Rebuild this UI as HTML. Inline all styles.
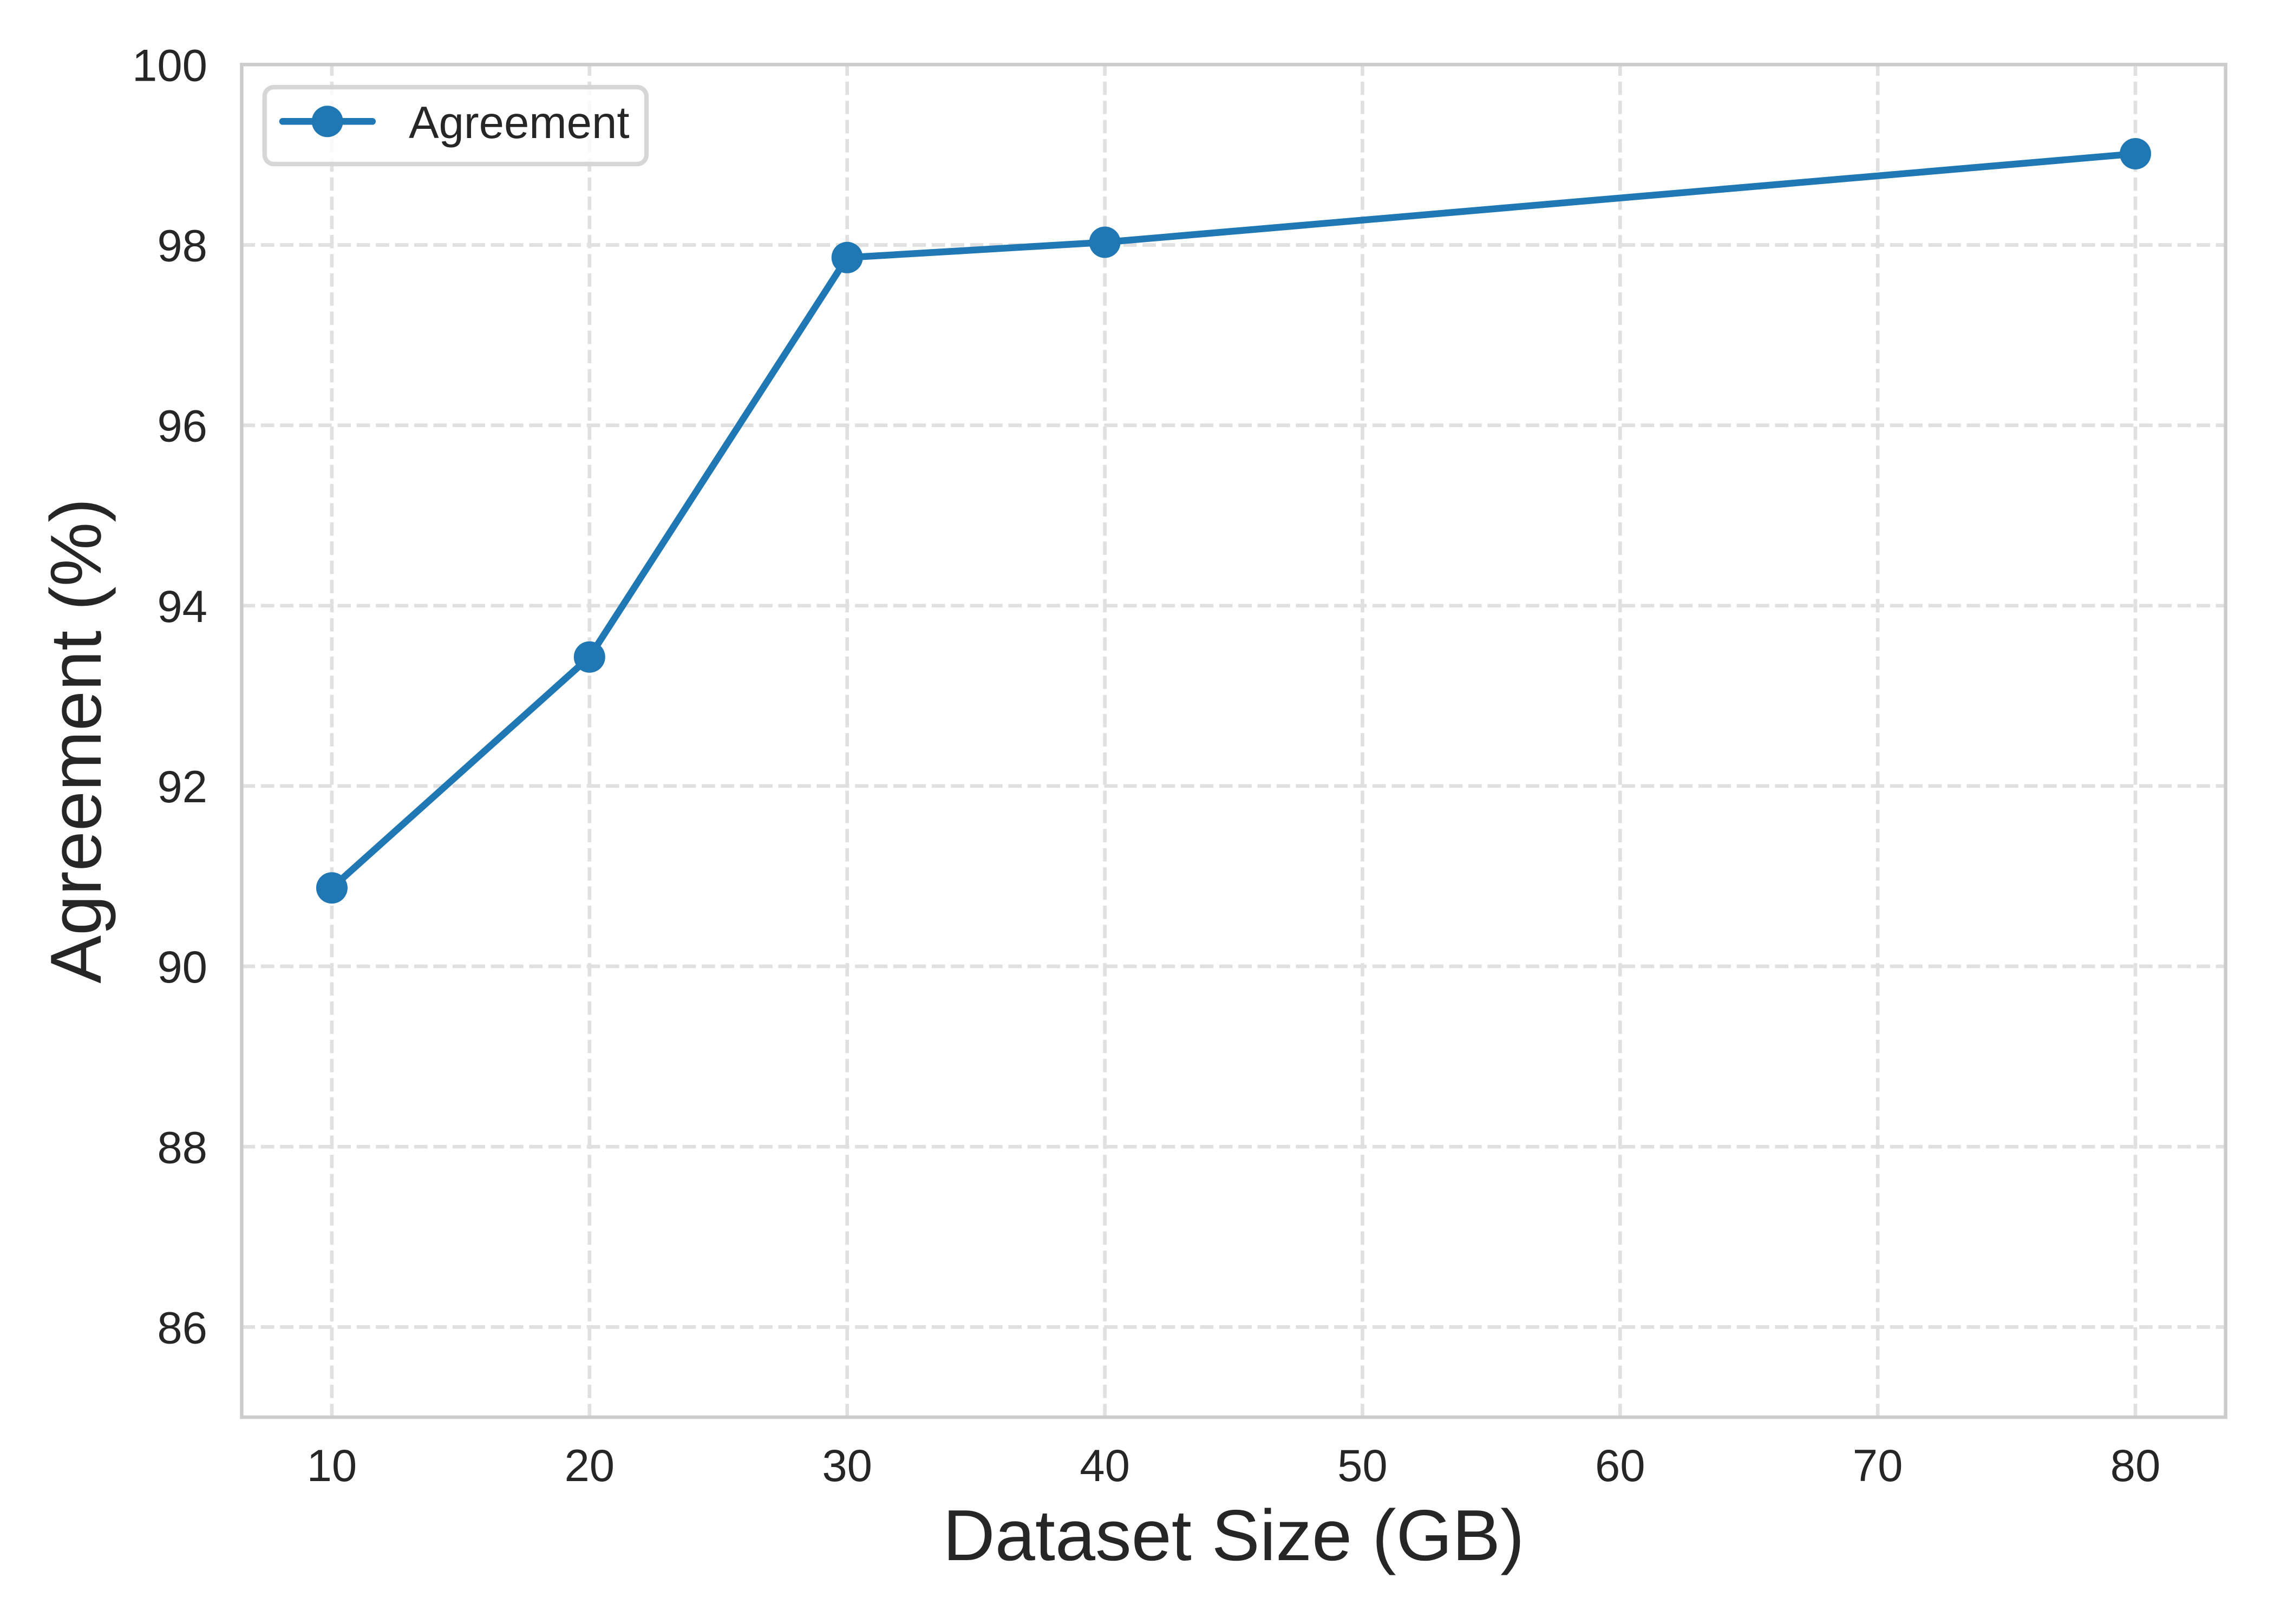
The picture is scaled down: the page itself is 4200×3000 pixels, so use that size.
<!DOCTYPE html>
<html>
<head>
<meta charset="utf-8">
<style>
  html, body { margin: 0; padding: 0; background: #ffffff; }
  svg { display: block; }
  text { font-family: "Liberation Sans", Arial, sans-serif; fill: #262626; }
</style>
</head>
<body>
<svg xmlns="http://www.w3.org/2000/svg" width="4200" height="3000" viewBox="0 0 4200 3000">
  <rect x="0" y="0" width="4200" height="3000" fill="#ffffff"/>

  <!-- horizontal gridlines -->
  <g stroke="#e0e0e0" stroke-width="6.7" stroke-dasharray="24.7 10.7" fill="none">
    <line x1="446.4" y1="452.5" x2="4110.6" y2="452.5"/>
    <line x1="446.4" y1="785.6" x2="4110.6" y2="785.6"/>
    <line x1="446.4" y1="1118.8" x2="4110.6" y2="1118.8"/>
    <line x1="446.4" y1="1451.9" x2="4110.6" y2="1451.9"/>
    <line x1="446.4" y1="1785.1" x2="4110.6" y2="1785.1"/>
    <line x1="446.4" y1="2118.3" x2="4110.6" y2="2118.3"/>
    <line x1="446.4" y1="2451.4" x2="4110.6" y2="2451.4"/>
  </g>
  <!-- vertical gridlines -->
  <g stroke="#e0e0e0" stroke-width="6.7" stroke-dasharray="24.7 10.7" fill="none">
    <line x1="612.95" y1="2618" x2="612.95" y2="119.3"/>
    <line x1="1088.8" y1="2618" x2="1088.8" y2="119.3"/>
    <line x1="1564.7" y1="2618" x2="1564.7" y2="119.3"/>
    <line x1="2040.6" y1="2618" x2="2040.6" y2="119.3"/>
    <line x1="2516.4" y1="2618" x2="2516.4" y2="119.3"/>
    <line x1="2992.3" y1="2618" x2="2992.3" y2="119.3"/>
    <line x1="3468.1" y1="2618" x2="3468.1" y2="119.3"/>
    <line x1="3944.0" y1="2618" x2="3944.0" y2="119.3"/>
  </g>

  <!-- spines -->
  <rect x="446.4" y="119.3" width="3664.2" height="2498.7" fill="none" stroke="#cccccc" stroke-width="6.5"/>

  <!-- data series -->
  <polyline points="612.95,1640.2 1088.8,1213.7 1564.7,475.8 2040.6,447.5 3944.0,284"
            fill="none" stroke="#1f77b4" stroke-width="12.5" stroke-linejoin="round" stroke-linecap="square"/>
  <g fill="#1f77b4">
    <circle cx="612.95" cy="1640.2" r="29"/>
    <circle cx="1088.8" cy="1213.7" r="29"/>
    <circle cx="1564.7" cy="475.8" r="29"/>
    <circle cx="2040.6" cy="447.5" r="29"/>
    <circle cx="3944.0" cy="284" r="29"/>
  </g>

  <!-- legend -->
  <rect x="488.7" y="161" width="705.3" height="142" rx="17" ry="17" fill="#ffffff" fill-opacity="0.8" stroke="#d6d6d6" stroke-width="8.3"/>
  <line x1="521.9" y1="224.3" x2="687.8" y2="224.3" stroke="#1f77b4" stroke-width="12.5" stroke-linecap="round"/>
  <circle cx="604.7" cy="224.3" r="29" fill="#1f77b4"/>
  <text x="755" y="255" font-size="83.3">Agreement</text>

  <!-- y tick labels -->
  <g font-size="83.3" text-anchor="end">
    <text x="383" y="149.3">100</text>
    <text x="383" y="482.5">98</text>
    <text x="383" y="815.6">96</text>
    <text x="383" y="1148.8">94</text>
    <text x="383" y="1481.9">92</text>
    <text x="383" y="1815.1">90</text>
    <text x="383" y="2148.3">88</text>
    <text x="383" y="2481.4">86</text>
  </g>

  <!-- x tick labels -->
  <g font-size="83.3" text-anchor="middle">
    <text x="612.95" y="2736">10</text>
    <text x="1088.8" y="2736">20</text>
    <text x="1564.7" y="2736">30</text>
    <text x="2040.6" y="2736">40</text>
    <text x="2516.4" y="2736">50</text>
    <text x="2992.3" y="2736">60</text>
    <text x="3468.1" y="2736">70</text>
    <text x="3944.0" y="2736">80</text>
  </g>

  <!-- axis labels -->
  <text x="2278.5" y="2882" font-size="133.3" text-anchor="middle">Dataset Size (GB)</text>
  <text transform="translate(186,1368.6) rotate(-90)" font-size="133.3" text-anchor="middle">Agreement (%)</text>
</svg>
</body>
</html>
